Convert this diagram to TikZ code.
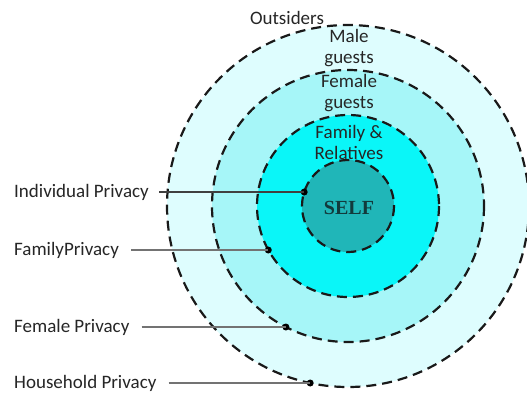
\documentclass[tikz,border=0pt]{standalone}
\usepackage{fontspec}
\setmainfont{Carlito}
\newfontfamily\selffont{Liberation Serif}
\begin{document}
\begin{tikzpicture}[x=1pt,y=-1pt,
  ring/.style={draw=black!90,line width=2.2pt,dash pattern=on 10pt off 6pt},
  lab/.style={font=\fontsize{19}{22}\selectfont,inner sep=0pt,anchor=west,text=black!85},
  zone/.style={font=\fontsize{19}{21.5}\selectfont,align=center,inner sep=0pt,text=black!85},
  dotc/.style={circle,fill=black,inner sep=0pt,minimum size=7pt},
  lead/.style={draw=black!55,line width=1.2pt}]
\useasboundingbox (0,0) rectangle (527,392);
\fill[white] (0,0) rectangle (527,392);
\coordinate (c) at (348,206);
\fill[fill={rgb,255:red,222;green,253;blue,254}] (c) circle (181);
\draw[ring] (c) circle (181);
\fill[fill={rgb,255:red,166;green,246;blue,248}] (c) circle (136);
\draw[ring] (c) circle (136);
\fill[fill={rgb,255:red,10;green,246;blue,248}] (c) circle (91);
\draw[ring] (c) circle (91);
\fill[fill={rgb,255:red,32;green,182;blue,184}] (c) circle (46);
\draw[ring] (c) circle (46);

\node[font=\selffont\bfseries\fontsize{20}{24}\selectfont,text={rgb,255:red,18;green,58;blue,60}] (self) at (349,208) {SELF};
\node[zone] (out) at (287,18) {Outsiders};
\node[zone] (male) at (349,48) {Male\\guests};
\node[zone] (fem) at (349,93) {Female\\guests};
\node[zone] (fam) at (349,142.5) {Family \&\\Relatives};

\node[lab] (l1) at (14,192) {Individual Privacy};
\node[lab] (l2) at (14,250) {FamilyPrivacy};
\node[lab] (l3) at (14,327) {Female Privacy};
\node[lab] (l4) at (14,383) {Household Privacy};

\node[dotc] (d1) at (304.2,192) {};
\node[dotc] (d2) at (268.3,250) {};
\node[dotc] (d3) at (285.9,327) {};
\node[dotc] (d4) at (310.2,383) {};

\draw[lead,draw=black!75] ([xshift=10pt]l1.east) -- (d1.center);
\draw[lead] ([xshift=12pt]l2.east) -- (d2.center);
\draw[lead] ([xshift=12pt]l3.east) -- (d3.center);
\draw[lead] ([xshift=12pt]l4.east) -- (d4.center);
\end{tikzpicture}
\end{document}
